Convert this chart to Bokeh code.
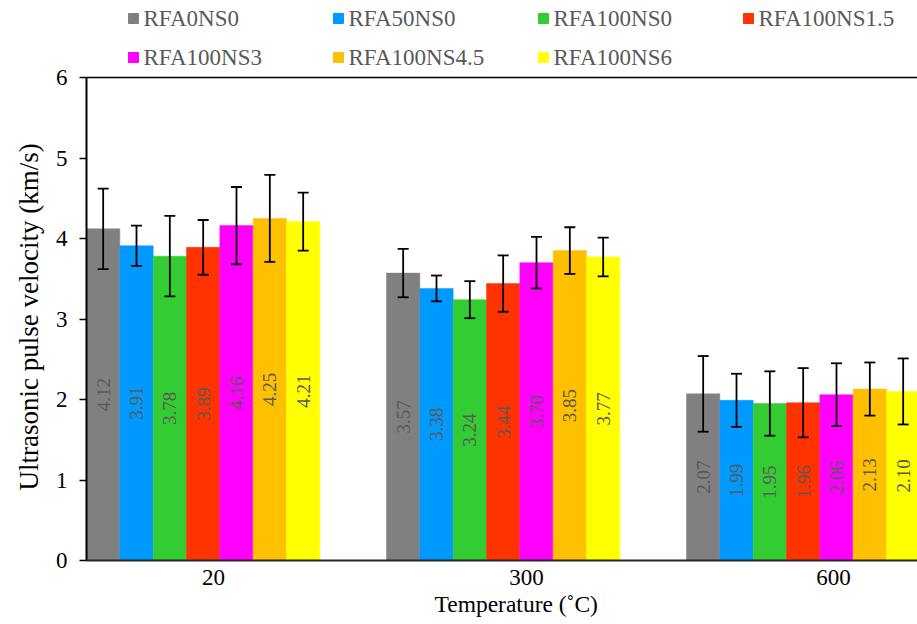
import numpy as np
from bokeh.plotting import figure
from bokeh.models import (ColumnDataSource, Range1d, FixedTicker, Whisker, TeeHead, Span, Title)
from bokeh.core.properties import value
from bokeh.embed import file_html
from bokeh.resources import INLINE

# ---- data ----
temperatures = ["20", "300", "600"]
series = ["RFA0NS0", "RFA50NS0", "RFA100NS0", "RFA100NS1.5", "RFA100NS3", "RFA100NS4.5", "RFA100NS6"]
colors = ["#808080", "#0099FF", "#33CC33", "#FF3300", "#FF00FF", "#FFC000", "#FFFF00"]

upv_20 = [4.12, 3.91, 3.78, 3.89, 4.16, 4.25, 4.21]
upv_300 = [3.57, 3.38, 3.24, 3.44, 3.70, 3.85, 3.77]
upv_600 = [2.07, 1.99, 1.95, 1.96, 2.06, 2.13, 2.10]

err_20 = [0.50, 0.25, 0.50, 0.34, 0.48, 0.54, 0.36]
err_300 = [0.30, 0.16, 0.23, 0.35, 0.32, 0.29, 0.24]
err_600 = [0.47, 0.33, 0.40, 0.43, 0.39, 0.33, 0.41]

y_ticks = [0, 1, 2, 3, 4, 5, 6]
x_title = "Temperature (˚C)"
y_title = "Ultrasonic pulse velocity (km/s)"

values = [upv_20, upv_300, upv_600]
errors = [err_20, err_300, err_600]

FONT = "Liberation Serif"
n_ser = len(series)
slot = n_ser + 2  # bars per category slot incl. gap
bar_w = 1.0 / slot

H, BOTTOM = 624, 64
y_max = 6
PX_PER_Y = 483.0 / y_max              # frame pixels per y unit in the 0..6 part
PX_PER_X = 300.0                      # frame pixels per category slot
y_top = (H - BOTTOM) / PX_PER_Y       # extra room above the axis for the legend

p = figure(width=917, height=H, output_backend="svg", toolbar_location=None,
           x_range=Range1d(0, 831 / PX_PER_X), y_range=Range1d(0, y_top),
           min_border_left=86, min_border_right=0, min_border_top=0, min_border_bottom=BOTTOM)
p.outline_line_color = None
p.xgrid.visible = False
p.ygrid.visible = False
p.background_fill_color = "white"
p.border_fill_color = "white"

for j, name in enumerate(series):
    xs = [i + (j + 0.5) * bar_w for i in range(len(temperatures))]
    vals = [values[i][j] for i in range(len(temperatures))]
    errs = [errors[i][j] for i in range(len(temperatures))]
    src = ColumnDataSource(dict(
        x=xs, top=vals,
        upper=[v + e for v, e in zip(vals, errs)],
        lower=[v - e for v, e in zip(vals, errs)],
        ymid=[v / 2 for v in vals],
        lab=["%.2f" % v for v in vals]))
    p.vbar(x="x", top="top", width=bar_w, bottom=0, source=src,
           fill_color=colors[j], line_color=colors[j], line_width=0.5, name=name)
    p.text(x="x", y="ymid", text="lab", source=src, angle=np.pi / 2,
           text_align="center", text_baseline="middle",
           text_font=value(FONT), text_font_size="19px", text_color="#595959")
    w = Whisker(source=src, base="x", upper="upper", lower="lower", level="overlay",
                line_color="black", line_width=1.8,
                upper_head=TeeHead(size=11, line_color="black", line_width=1.8),
                lower_head=TeeHead(size=11, line_color="black", line_width=1.8))
    p.add_layout(w)

# ---- legend (2 rows x 4 columns, above the plot area) ----
leg_cols = 4
leg_x0 = 47 / PX_PER_X          # first swatch centre, from frame left
leg_dx = 205 / PX_PER_X         # column pitch
leg_text_dx = 10 / PX_PER_X     # swatch centre -> label start
leg_y0 = (560 - 18) / PX_PER_Y  # first row centre
leg_dy = 39 / PX_PER_Y          # row pitch
lx = [leg_x0 + (k % leg_cols) * leg_dx for k in range(n_ser)]
ly = [leg_y0 - (k // leg_cols) * leg_dy for k in range(n_ser)]
leg_src = ColumnDataSource(dict(x=lx, y=ly, tx=[v + leg_text_dx for v in lx],
                                label=series, color=colors))
p.scatter(x="x", y="y", source=leg_src, marker="square", size=10,
          fill_color="color", line_color="color")
p.text(x="tx", y="y", text="label", source=leg_src, text_align="left",
       text_baseline="middle", text_font=value(FONT), text_font_size="23px",
       text_color="#595959")

# top border line of the plot area
p.add_layout(Span(location=y_max, dimension="width", line_color="black", line_width=1.5))

# x axis
label_pos = [0.423, 1.467, 2.49]
p.xaxis.ticker = FixedTicker(ticks=label_pos)
p.xaxis.major_label_overrides = {lp: t for lp, t in zip(label_pos, temperatures)}
p.xaxis.major_tick_out = 0
p.xaxis.major_tick_in = 0
p.xaxis.minor_tick_line_color = None
p.xaxis.axis_line_color = "#262626"
p.xaxis.axis_line_width = 2
p.xaxis.major_label_standoff = 9
p.xaxis.major_label_text_font = FONT
p.xaxis.major_label_text_font_size = "23px"
p.xaxis.major_label_text_color = "black"

# y axis
p.yaxis.bounds = (0, y_max)
p.yaxis.ticker = FixedTicker(ticks=y_ticks)
p.yaxis.major_tick_out = 7
p.yaxis.major_tick_in = 0
p.yaxis.minor_tick_line_color = None
p.yaxis.axis_line_color = "black"
p.yaxis.axis_line_width = 2
p.yaxis.major_tick_line_width = 1.5
p.yaxis.major_label_standoff = 12
p.yaxis.major_label_text_font = FONT
p.yaxis.major_label_text_font_size = "23px"
p.yaxis.major_label_text_color = "black"

# axis titles (side titles so they can be positioned like the original)
yt = Title(text=y_title, align="left", offset=70, standoff=18,
           text_font=FONT, text_font_size="27px", text_font_style="normal",
           text_color="black")
p.add_layout(yt, "left")
xt = Title(text=x_title, align="left", offset=348, standoff=3,
           text_font=FONT, text_font_size="23.5px", text_font_style="normal",
           text_color="black")
p.add_layout(xt, "below")

open("out.html", "w").write(file_html(p, INLINE))
